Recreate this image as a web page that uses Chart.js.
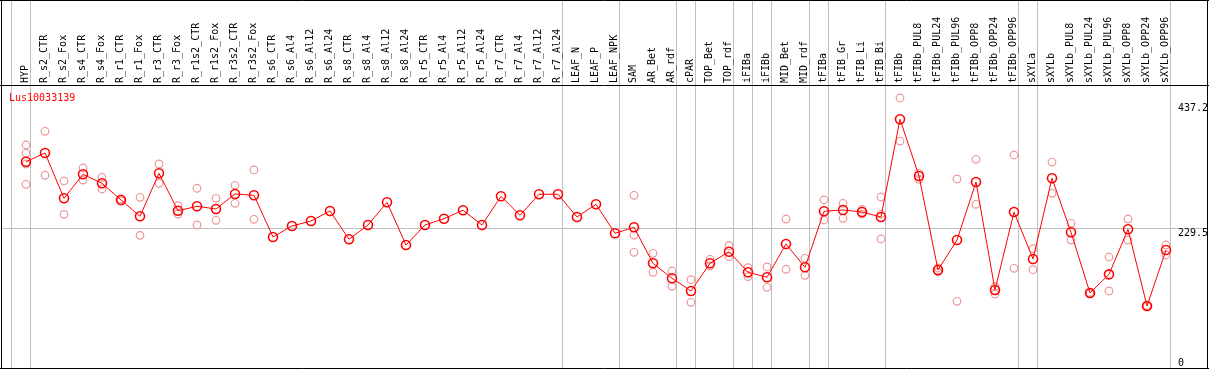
<!DOCTYPE html>
<html>
<head>
<meta charset="utf-8">
<script src="https://cdn.jsdelivr.net/npm/chart.js@4.4.1/dist/chart.umd.min.js"></script>
<style>
html,body{margin:0;padding:0;background:#fff;}
canvas{display:block;}
</style>
</head>
<body>
<canvas id="c" width="1209" height="370"></canvas>
<script>
const title = "Lus10033139";
const categories = ["HYP","R_s2_CTR","R_s2_Fox","R_s4_CTR","R_s4_Fox","R_r1_CTR","R_r1_Fox","R_r3_CTR","R_r3_Fox","R_r1s2_CTR","R_r1s2_Fox","R_r3s2_CTR","R_r3s2_Fox","R_s6_CTR","R_s6_Al4","R_s6_Al12","R_s6_Al24","R_s8_CTR","R_s8_Al4","R_s8_Al12","R_s8_Al24","R_r5_CTR","R_r5_Al4","R_r5_Al12","R_r5_Al24","R_r7_CTR","R_r7_Al4","R_r7_Al12","R_r7_Al24","LEAF_N","LEAF_P","LEAF_NPK","SAM","AR_Bet","AR_rdf","cPAR","TOP_Bet","TOP_rdf","iFIBa","iFIBb","MID_Bet","MID_rdf","tFIBa","tFIB_Gr","tFIB_Li","tFIB_Bi","tFIBb","tFIBb_PUL8","tFIBb_PUL24","tFIBb_PUL96","tFIBb_OPP8","tFIBb_OPP24","tFIBb_OPP96","sXYLa","sXYLb","sXYLb_PUL8","sXYLb_PUL24","sXYLb_PUL96","sXYLb_OPP8","sXYLb_OPP24","sXYLb_OPP96"];
const means = [340,354.6,279.3,319.2,304.3,276.5,249.4,320.9,258.7,266,261.6,286.5,284.3,215,233.3,241.6,258.2,211.2,235,272.7,201.7,235,245.4,259.4,235,282.7,251.1,286,286,248.3,269.4,221.2,231.1,171.3,146.4,125.3,171.3,190.6,156.4,148.1,203.4,164.7,257.7,259.9,256.6,248.3,410.6,316.4,160.2,210,306.4,127,256.6,178.5,312.6,222.8,122,153,227.8,100.4,193.4];
const replicates = [[367.9,354.1,336.3,302.6],[390.7,317.6],[308.1,252.7],[329.7,309.7],[314.2,294.8],[278.2,274.9],[281,217.8],[336.3,304.3],[267,253.2],[296,235],[279.3,242.8],[300.9,271],[326.4,244.4],[],[],[],[],[],[],[],[],[],[],[],[],[],[],[],[],[],[],[],[284.3,218.3,189.6],[187.9,156.4],[158.5,133.1],[144.1,106.5],[178,166.8],[200.6,182.3],[164,149.1],[165.2,131.4],[244.9,161.4],[179.6,151.4],[276.5,243.3],[271,246.1],[261,253.2],[281.5,253.2,211.7],[446,374.5],[320.9,310.9],[163.5,156.9],[311.4,108.2],[344.1,269.4],[132.4,120.3],[351.3,163],[195.6,160.7],[339.6,287.6],[237.8,210],[121,123],[181.8,125.3],[244.9,210],[100,101],[201.7,185.1]];
const yTicks = [437.2, 229.5, 0];
const gridValues = [229.5];
const groupEnds = [-1,0,28,31,34,35,37,38,39,41,42,45,52,53,60];

const repPoints = [];
replicates.forEach((arr,i)=>arr.forEach(v=>repPoints.push({x:categories[i], y:v})));

const FONT = '10px "DejaVu Sans Mono", "Liberation Mono", monospace';

const decor = {
  id:'decor',
  beforeDatasetsDraw(chart){
    const ctx = chart.ctx, xs = chart.scales.x, ys = chart.scales.y;
    const step = xs.getPixelForValue(1) - xs.getPixelForValue(0);
    ctx.save();
    ctx.strokeStyle = '#c0c0c0';
    ctx.lineWidth = 1;
    groupEnds.forEach(i=>{
      const x = Math.round(xs.getPixelForValue(0) + i*step + step*0.22) + 0.5;
      ctx.beginPath(); ctx.moveTo(x,0); ctx.lineTo(x,369); ctx.stroke();
    });
    gridValues.forEach(v=>{
      const y = Math.round(ys.getPixelForValue(v)) + 0.5;
      ctx.beginPath(); ctx.moveTo(1,y); ctx.lineTo(1207,y); ctx.stroke();
    });
    ctx.fillStyle = '#000';
    ctx.font = FONT;
    ctx.textAlign = 'left';
    ctx.textBaseline = 'middle';
    categories.forEach((c,i)=>{
      const x = xs.getPixelForValue(i) - 0.5;
      ctx.save();
      ctx.translate(x, 83);
      ctx.rotate(-Math.PI/2);
      ctx.fillText(c, 0, 0);
      ctx.restore();
    });
    ctx.textBaseline = 'alphabetic';
    yTicks.forEach(v=>{
      let y = ys.getPixelForValue(v) + 8;
      if (y > 365.5) y = 365.5;
      ctx.fillText(String(v), 1178, y);
    });
    ctx.fillStyle = '#ff0000';
    ctx.fillText(title, 9, 101);
    ctx.restore();
  },
  afterDatasetsDraw(chart){
    const ctx = chart.ctx;
    ctx.save();
    ctx.strokeStyle = '#000';
    ctx.lineWidth = 1;
    ctx.beginPath();
    ctx.moveTo(1.5,0); ctx.lineTo(1.5,369);
    ctx.moveTo(1207.5,0); ctx.lineTo(1207.5,369);
    ctx.moveTo(0,0.5); ctx.lineTo(1209,0.5);
    ctx.moveTo(0,85.5); ctx.lineTo(1209,85.5);
    ctx.moveTo(0,368.5); ctx.lineTo(1209,368.5);
    ctx.stroke();
    ctx.restore();
  }
};

new Chart(document.getElementById('c'), {
  type:'line',
  data:{
    labels: categories,
    datasets:[
      {
        label:'mean',
        data: means,
        borderColor:'#ff0000',
        borderWidth:1,
        pointStyle:'circle',
        pointRadius:4.5,
        pointBorderWidth:1.6,
        pointBorderColor:'#ff0000',
        pointBackgroundColor:'rgba(0,0,0,0)',
        tension:0,
        clip:false
      },
      {
        label:'replicates',
        type:'scatter',
        data: repPoints,
        showLine:false,
        pointStyle:'circle',
        pointRadius:3.8,
        pointBorderWidth:1.2,
        pointBorderColor:'#ef9696',
        pointBackgroundColor:'rgba(0,0,0,0)',
        clip:false
      }
    ]
  },
  options:{
    responsive:false,
    devicePixelRatio:1,
    animation:false,
    events:[],
    layout:{autoPadding:false, padding:{left:26, right:43, top:85, bottom:1}},
    plugins:{legend:{display:false}, tooltip:{enabled:false}},
    scales:{
      x:{type:'category', display:false, offset:false},
      y:{type:'linear', display:false, min:-4.32, max:467.6}
    }
  },
  plugins:[decor]
});
</script>
</body>
</html>
